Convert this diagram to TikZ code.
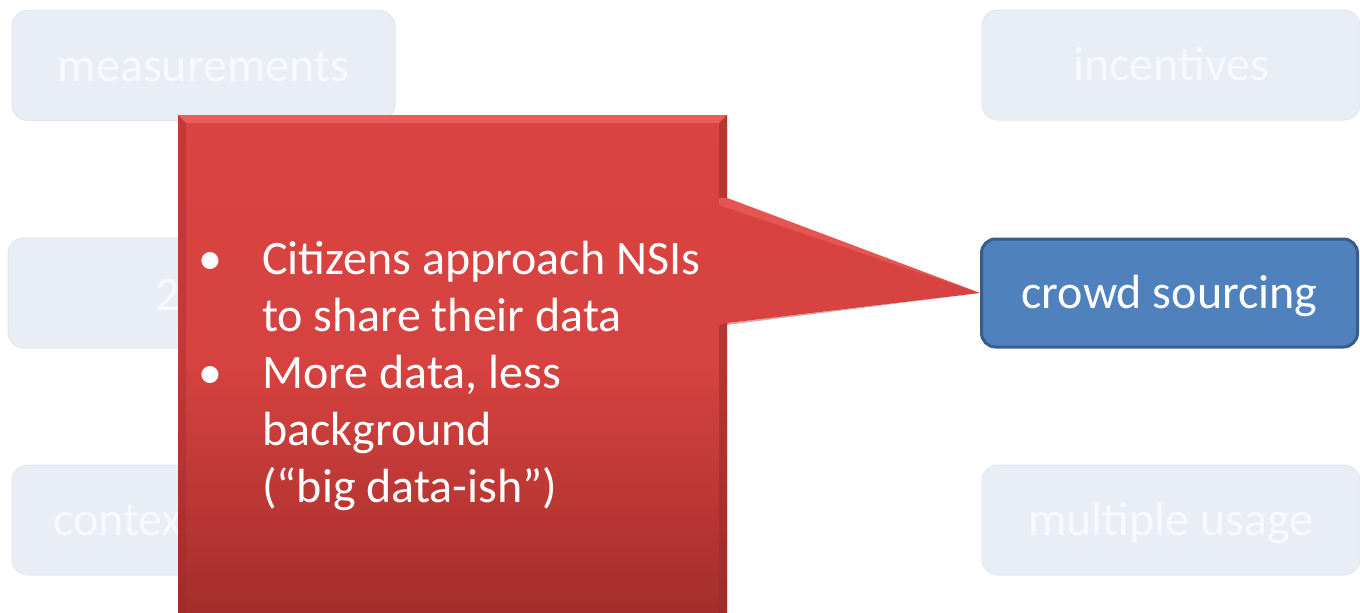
\documentclass[tikz,border=0pt]{standalone}
\usepackage{fontspec}
\setmainfont{Carlito}
\definecolor{fadefill}{HTML}{E9EEF6}
\definecolor{fadeline}{HTML}{E2E6ED}
\definecolor{fadetxt}{HTML}{F7F9FC}
\definecolor{bluefill}{HTML}{4F81BD}
\definecolor{blueline}{HTML}{385D8A}
\definecolor{redtop}{HTML}{DA4441}
\definecolor{redbot}{HTML}{A42E2B}
\definecolor{redhi}{HTML}{EE6460}
\definecolor{reddark}{HTML}{9A2A27}
\begin{document}
\begin{tikzpicture}[x=1pt,y=-1pt,
  fadebox/.style={rounded corners=16pt, fill=fadefill, draw=fadeline, line width=1pt, minimum height=110pt, inner sep=0pt, text=fadetxt, font=\fontsize{48}{57}\selectfont, text height=36pt, text depth=5pt},
  bluebox/.style={rounded corners=14pt, fill=bluefill, draw=blueline, line width=3pt, minimum height=108pt, inner sep=0pt, text=white, font=\fontsize{48}{57}\selectfont, text height=36pt, text depth=5pt},
  fadetext/.style={text=fadetxt, font=\fontsize{48}{57}\selectfont, inner sep=0pt},
  calltext/.style={text=white, font=\fontsize{48}{57}\selectfont, inner sep=0pt, anchor=base west}]
\useasboundingbox (0,0) rectangle (1360,613);
% faded boxes
\node[fadebox, minimum width=383pt] (meas) at (203.5,65.5) {measurements};
\node[fadebox, minimum width=383pt] (two) at (199.5,293) {};
\node[fadetext, anchor=base west] (twotxt) at (155,310) {2};
\node[fadebox, minimum width=383pt] (ctx) at (203.5,520) {};
\node[fadetext, anchor=base west] (ctxtxt) at (53,535) {contex};
\node[fadebox, minimum width=378pt] (inc) at (1171,65) {incentives};
\node[fadebox, minimum width=378pt] (mult) at (1171,520) {multiple usage};
% blue box
\node[bluebox, minimum width=376pt] (crowd) at (1169.5,293) {crowd sourcing};
% red callout
\coordinate (tip) at (crowd.west);
\shade[top color=redtop, bottom color=redbot, middle color=redtop!92!redbot]
  (178,115) -- (727,115) -- (727,198) -- (tip) -- (727,323) -- (727,613) -- (178,613) -- cycle;
% bevel highlights
\fill[redhi, opacity=0.8] (178,115) -- (727,115) -- (719,123) -- (186,123) -- cycle;
\fill[reddark, opacity=0.35] (178,115) -- (186,123) -- (186,613) -- (178,613) -- cycle;
\fill[reddark, opacity=0.5] (727,115) -- (719,123) -- (719,198) -- (727,198) -- cycle;
\fill[reddark, opacity=0.5] (727,323) -- (719,326) -- (719,613) -- (727,613) -- cycle;
\fill[redhi, opacity=0.6] (727,198) -- (tip) -- (719,205) -- (719,198) -- cycle;
\fill[reddark, opacity=0.4] (727,323) -- (tip) -- (719,326) -- cycle;
% text
\node[calltext] (b1) at (198,274) {\textbullet};
\node[calltext] (l1) at (262,274) {Citizens approach NSIs};
\node[calltext] (l2) at (262,331) {to share their data};
\node[calltext] (b2) at (198,388) {\textbullet};
\node[calltext] (l3) at (262,388) {More data, less};
\node[calltext] (l4) at (262,445) {background};
\node[calltext] (l5) at (262,502) {(“big data-ish”)};
\end{tikzpicture}
\end{document}
